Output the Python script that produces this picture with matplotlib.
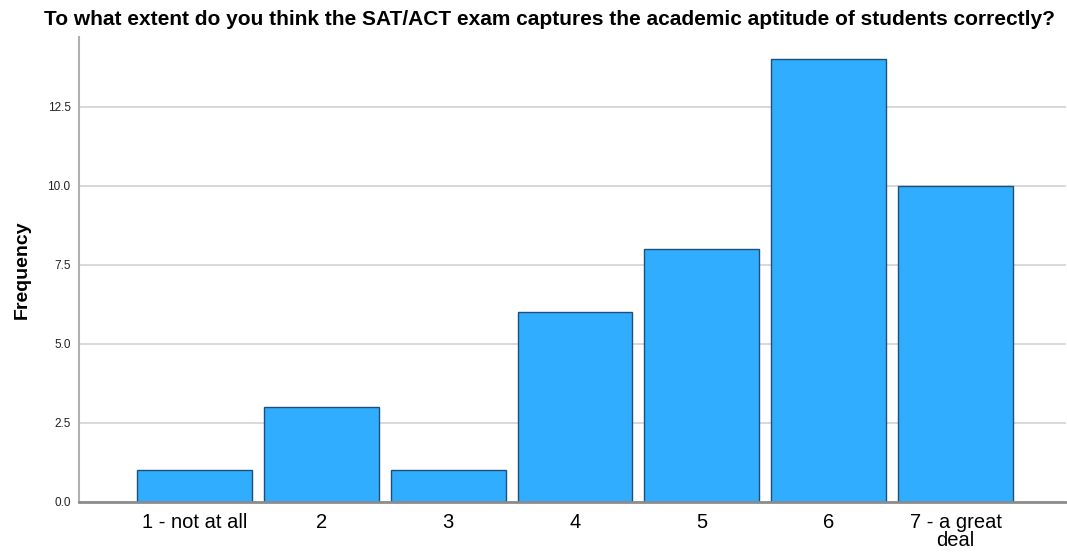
import matplotlib
matplotlib.use('Agg')
import matplotlib.pyplot as plt
import numpy as np

plt.rcParams['font.family'] = ['Liberation Sans', 'DejaVu Sans']

# survey answers and counts
categories = ['1 - not at all', '2', '3', '4', '5', '6', '7 - a great\ndeal']
frequencies = [1, 3, 1, 6, 8, 14, 10]
yticks = [0.0, 2.5, 5.0, 7.5, 10.0, 12.5]

fig = plt.figure(figsize=(10.67, 5.54), dpi=100)
ax = fig.add_axes([0.074, 0.094, 0.925, 0.839])

x = np.arange(len(categories))
ax.bar(x, frequencies, width=0.905, color='#31adff', edgecolor='#1d4f78',
       linewidth=1.0, zorder=3)

ax.set_xlim(-0.91, len(categories) - 1 + 0.87)
ax.set_ylim(0, 14.7)
ax.set_yticks(yticks)
ax.set_yticklabels([f'{v:.1f}' for v in yticks], fontsize=8.5, color='#222222')
ax.set_xticks(x)
ax.set_xticklabels(categories, fontsize=14.5, linespacing=0.95)
ax.tick_params(axis='both', length=0, pad=6)
ax.tick_params(axis='x', pad=8)

ax.grid(axis='y', color='#d6d6d6', linewidth=1.3, zorder=0)
for side in ['top', 'right']:
    ax.spines[side].set_visible(False)
ax.spines['left'].set_color('#b0b0b0')
ax.spines['left'].set_linewidth(1.5)
ax.spines['bottom'].set_color('#8c8c8c')
ax.spines['bottom'].set_linewidth(2)
ax.spines['bottom'].set_zorder(4)

ax.set_ylabel('Frequency', fontsize=14, fontweight='bold', labelpad=12)
fig.text(0.515, 0.965, 'To what extent do you think the SAT/ACT exam captures the academic aptitude of students correctly?',
         ha='center', va='center', fontsize=15, fontweight='bold')

fig.savefig('out.png', dpi=100)
